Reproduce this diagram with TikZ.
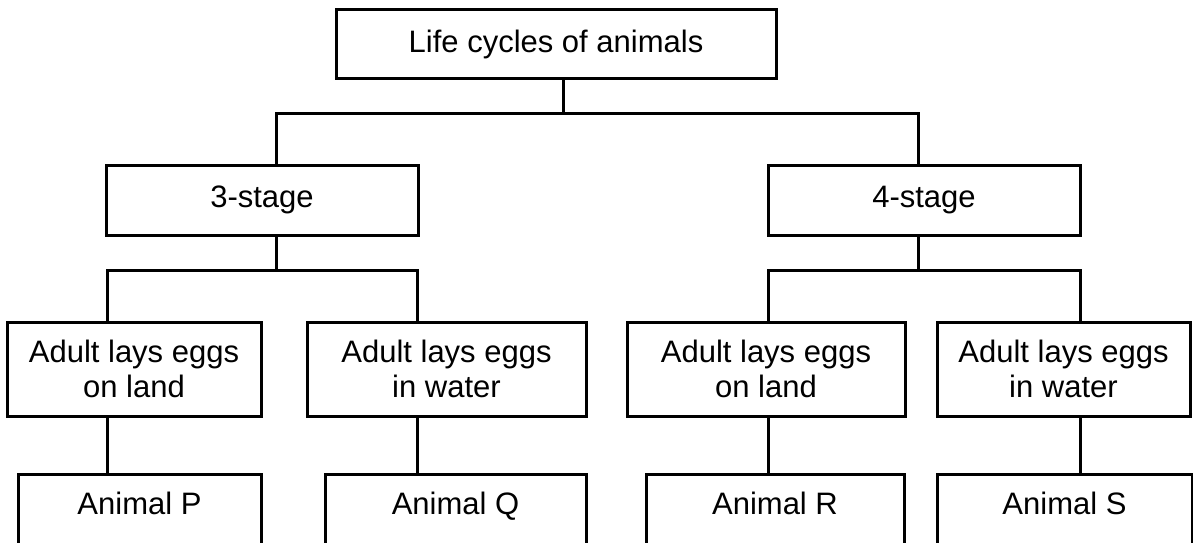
\documentclass[tikz,border=0pt]{standalone}
\usepackage{fontspec}
\setmainfont{Liberation Sans}
\begin{document}
\begin{tikzpicture}[x=1pt,y=1pt,
  box/.style={draw=black, line width=3pt, inner sep=0pt, align=center,
    font=\fontsize{31}{35}\selectfont},
  conn/.style={draw=black, line width=3pt}]
\useasboundingbox (0,0) rectangle (1193,-543);
\fill[white] (0,0) rectangle (1193,-543);
% level 0
\node[box, minimum width=440, minimum height=68] (top) at (556,-44) {Life cycles of animals};
% level 1
\node[box, minimum width=312, minimum height=70] (s3) at (262,-200) {3-stage};
\node[box, minimum width=312, minimum height=70] (s4) at (924,-200) {4-stage};
% level 2
\node[box, minimum width=254, minimum height=94] (a1) at (134,-369) {Adult lays eggs\\on land};
\node[box, minimum width=279, minimum height=94] (a2) at (446.5,-369) {Adult lays eggs\\in water};
\node[box, minimum width=278, minimum height=94] (a3) at (766,-369) {Adult lays eggs\\on land};
\node[box, minimum width=253, minimum height=94] (a4) at (1063.5,-369) {Adult lays eggs\\in water};
% level 3 (boxes run past the bottom edge)
\node[box, anchor=north, minimum width=243, text height=40pt, text depth=60pt] (P) at (139.5,-473) {Animal P};
\node[box, anchor=north, minimum width=261, text height=40pt, text depth=60pt] (Q) at (455.5,-473) {Animal Q};
\node[box, anchor=north, minimum width=258, text height=40pt, text depth=60pt] (R) at (775,-473) {Animal R};
\node[box, anchor=north, minimum width=255, text height=40pt, text depth=60pt] (S) at (1064.5,-473) {Animal S};
% junction coordinates
\coordinate (h0) at (563,-113);
\coordinate (h1) at (276,-270);
\coordinate (h2) at (918,-270);
\coordinate (xP) at (107,0);
\coordinate (xQ) at (417,0);
\coordinate (xR) at (768,0);
\coordinate (xS) at (1080,0);
% connectors
\draw[conn] (top.south -| h0) -- (h0);
\draw[conn] (s3.north -| h1) |- (h0) -| (s4.north -| h2);
\draw[conn] (s3.south -| h1) -- (h1);
\draw[conn] (s4.south -| h2) -- (h2);
\draw[conn] (a1.north -| xP) |- (h1) -| (a2.north -| xQ);
\draw[conn] (a3.north -| xR) |- (h2) -| (a4.north -| xS);
\draw[conn] (a1.south -| xP) -- (P.north -| xP);
\draw[conn] (a2.south -| xQ) -- (Q.north -| xQ);
\draw[conn] (a3.south -| xR) -- (R.north -| xR);
\draw[conn] (a4.south -| xS) -- (S.north -| xS);
\end{tikzpicture}
\end{document}
